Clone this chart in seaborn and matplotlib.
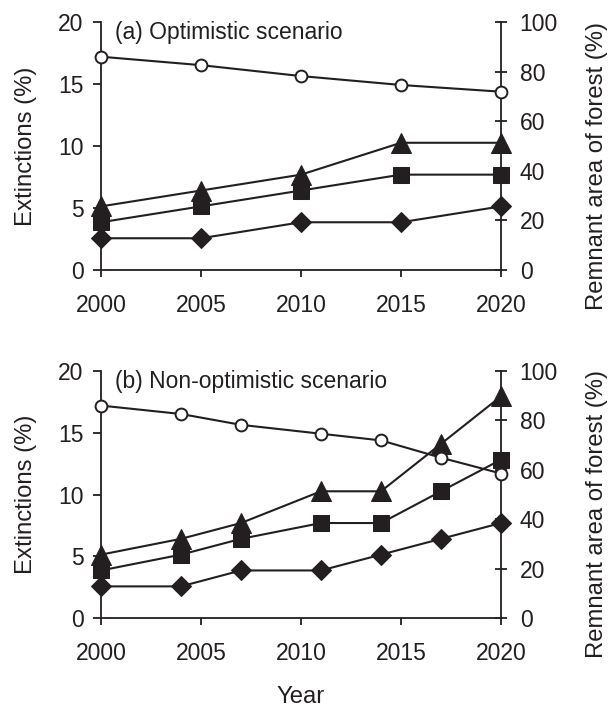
import matplotlib
matplotlib.use("Agg")
import matplotlib.pyplot as plt
import seaborn as sns

# ---- data ----
years_a = [2000, 2005, 2010, 2015, 2020]
forest_a = [86.0, 82.6, 78.2, 74.6, 71.9]
triangle_a = [5.13, 6.41, 7.69, 10.26, 10.26]
square_a = [3.85, 5.13, 6.41, 7.69, 7.69]
diamond_a = [2.56, 2.56, 3.85, 3.85, 5.13]

years_b = [2000, 2004, 2007, 2011, 2014, 2017, 2020]
forest_b = [86.0, 82.6, 78.2, 74.6, 71.9, 64.9, 58.5]
triangle_b = [5.13, 6.41, 7.69, 10.26, 10.26, 14.1, 17.95]
square_b = [3.85, 5.13, 6.41, 7.69, 7.69, 10.26, 12.82]
diamond_b = [2.56, 2.56, 3.85, 3.85, 5.13, 6.41, 7.69]

x_ticks = [2000, 2005, 2010, 2015, 2020]
left_ticks = [0, 5, 10, 15, 20]
right_ticks = [0, 20, 40, 60, 80, 100]
titles = ["(a) Optimistic scenario", "(b) Non-optimistic scenario"]

sns.set_style("ticks")
plt.rcParams["font.family"] = ["Liberation Sans", "DejaVu Sans"]
INK = "#231f20"
FS = 16.5

fig = plt.figure(figsize=(6.15, 7.09), dpi=100)
W, H = 615, 709


def px_axes(x0, y0, x1, y1):
    return fig.add_axes([x0 / W, 1 - y1 / H, (x1 - x0) / W, (y1 - y0) / H])


panels = [
    (px_axes(101, 22, 501, 270), years_a, forest_a, triangle_a, square_a, diamond_a, titles[0]),
    (px_axes(101, 371, 501, 618), years_b, forest_b, triangle_b, square_b, diamond_b, titles[1]),
]

lw = 1.5
sw = 1.3
for ax, yrs, forest, tri, sq, dia, title in panels:
    common = dict(color=INK, linewidth=lw, errorbar=None, clip_on=False,
                  markeredgecolor=INK, markerfacecolor=INK, zorder=3)
    sns.lineplot(x=yrs, y=dia, marker="D", markersize=9.8, ax=ax, **common)
    sns.lineplot(x=yrs, y=sq, marker="s", markersize=11.5, ax=ax, **common)
    sns.lineplot(x=yrs, y=tri, marker="^", markersize=15.0, ax=ax, **common)
    ax.set_xlim(2000, 2020)
    ax.set_ylim(0, 20)
    ax.set_xticks(x_ticks)
    ax.set_yticks(left_ticks)
    ax.spines["top"].set_visible(False)
    ax.spines["right"].set_visible(False)
    for s in ("left", "bottom"):
        ax.spines[s].set_linewidth(sw)
        ax.spines[s].set_color(INK)
    ax.tick_params(axis="y", direction="out", length=5.6, width=sw, pad=7.0,
                   labelsize=FS, colors=INK)
    ax.tick_params(axis="x", direction="out", length=5.0, width=sw, pad=12.5,
                   labelsize=FS, colors=INK)
    ax.set_ylabel("Extinctions (%)", fontsize=FS + 0.7, color=INK, va="center")
    ax.yaxis.set_label_coords(-0.1875, 0.5)
    ax.set_xlabel("")
    ax.text(0.035, 0.957, title, transform=ax.transAxes, fontsize=FS, color=INK,
            ha="left", va="center")

    ax2 = ax.twinx()
    sns.lineplot(x=yrs, y=forest, marker="o", markersize=8.5, color=INK, linewidth=lw,
                 errorbar=None, clip_on=False, markerfacecolor="white",
                 markeredgecolor=INK, markeredgewidth=1.4, ax=ax2, zorder=3)
    ax2.set_ylim(0, 100)
    ax2.set_yticks(right_ticks)
    ax2.spines["top"].set_visible(False)
    ax2.spines["left"].set_visible(False)
    ax2.spines["bottom"].set_visible(False)
    ax2.spines["right"].set_linewidth(sw)
    ax2.spines["right"].set_color(INK)
    ax2.tick_params(axis="y", direction="inout", length=9.0, width=sw, pad=9.0,
                    labelsize=FS, colors=INK)
    ax2.set_ylabel("Remnant area of forest (%)", fontsize=FS + 0.7, color=INK,
                   va="center", rotation=90)
    ax2.yaxis.set_label_coords(1.24, 0.42)

fig.text(301 / W, 1 - 697 / H, "Year", fontsize=FS + 0.7, color=INK,
         ha="center", va="center")

fig.savefig("out.png", dpi=100)
